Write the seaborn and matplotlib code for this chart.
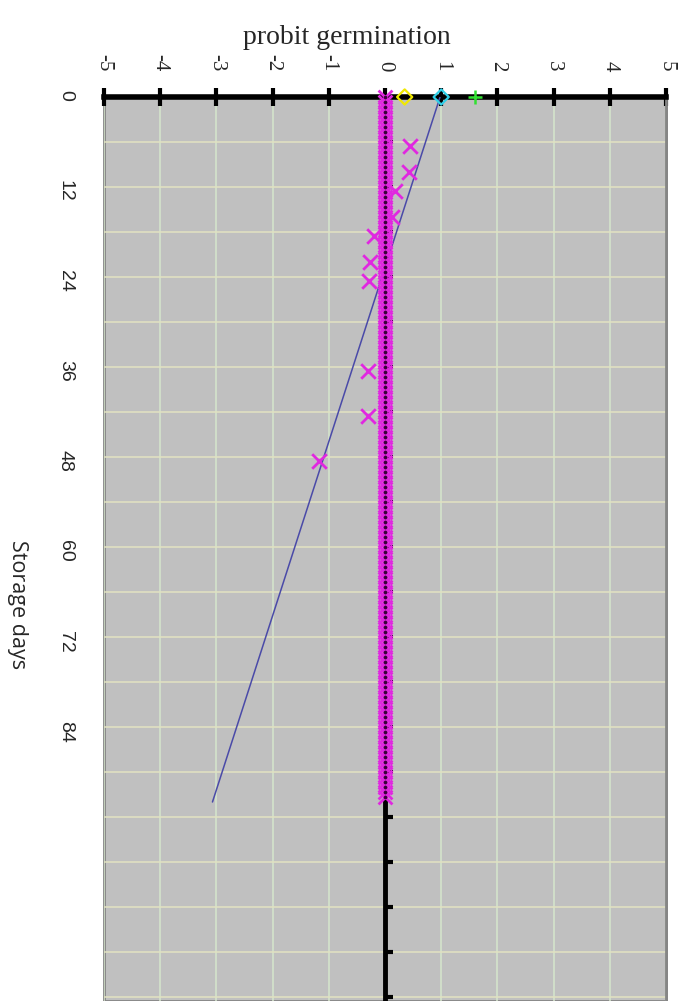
import matplotlib
matplotlib.use("Agg")
import matplotlib.pyplot as plt
import seaborn as sns
import pandas as pd
from matplotlib.ticker import FixedLocator, FuncFormatter

sns.set_style("white")
plt.rcParams['font.family'] = ['Liberation Sans', 'DejaVu Sans']

# ---------------- data ----------------
probit_ticks = [-5, -4, -3, -2, -1, 0, 1, 2, 3, 4, 5]
day_ticks = [0, 6, 12, 18, 24, 30, 36, 42, 48, 54, 60, 66, 72, 78, 84, 90, 96, 102, 108, 114, 120]
day_labels = ['0', '', '12', '', '24', '', '36', '', '48', '', '60', '', '72', '', '84',
              '', '', '', '', '', '']

# dense series lying on probit 0 (read: a marker roughly every 2/3 day up to ~day 93)
zero_days = [i * 2 / 3 for i in range(141)]
zero_probit = [0.0] * len(zero_days)

# scattered observations (pink x)
obs_days = [6.5, 10, 12.5, 16, 18.5, 22, 24.5, 36.5, 42.5, 48.5]
obs_probit = [0.45, 0.42, 0.18, 0.12, -0.2, -0.27, -0.28, -0.3, -0.3, -1.18]

# fitted line
fit_days = [0, 94]
fit_probit = [0.98, -3.07]

# day-0 markers
yellow_probit = [0.35]
cyan_probit = [1.0]
green_probit = [1.6]
day0 = [0]

# ---------------- figure ----------------
W, H = 688, 1001
fig = plt.figure(figsize=(W / 100, H / 100), dpi=100)
ax_left, ax_right, ax_top, ax_bottom = 104, 666, 97, 1001
ax = fig.add_axes([ax_left / W, 1 - ax_bottom / H, (ax_right - ax_left) / W, (ax_bottom - ax_top) / H])
ax.set_facecolor('#c0c0c0')
ax.patch.set_edgecolor('#858585')
ax.patch.set_linewidth(2)

ax.set_xlim(-5, 5)
ax.set_ylim((ax_bottom - ax_top) / 7.5, 0)

# grid
ax.xaxis.set_major_locator(FixedLocator(probit_ticks))
ax.yaxis.set_major_locator(FixedLocator(day_ticks))
ax.grid(True, axis='x', color='#d6e6cc', lw=1.1, zorder=0)
ax.grid(True, axis='y', color='#e2e2c2', lw=1.1, zorder=0)
ax.set_axisbelow(True)

# data
df_zero = pd.DataFrame({'days': zero_days, 'probit': zero_probit})
sns.scatterplot(data=df_zero, x='probit', y='days', marker='x', s=100, color='#e028e0',
                linewidth=2.0, ax=ax, zorder=4, clip_on=False)
sns.scatterplot(data=df_zero, x='probit', y='days', marker='o', s=7, color='#3a003a',
                linewidth=0, ax=ax, zorder=5, clip_on=False)

df_fit = pd.DataFrame({'days': fit_days, 'probit': fit_probit})
sns.lineplot(data=df_fit, x='probit', y='days', orient='y', sort=False, color='#4a4aa8',
             lw=1.1, ax=ax, zorder=3)

df_obs = pd.DataFrame({'days': obs_days, 'probit': obs_probit})
sns.scatterplot(data=df_obs, x='probit', y='days', marker='x', s=110, color='#e028e0',
                linewidth=2.0, ax=ax, zorder=4)

sns.scatterplot(x=yellow_probit, y=day0, marker='D', s=60, facecolor='none', edgecolor='#f0e800',
                linewidth=1.6, ax=ax, zorder=6, clip_on=False)
sns.scatterplot(x=cyan_probit, y=day0, marker='D', s=60, facecolor='none', edgecolor='#30d0e8',
                linewidth=1.6, ax=ax, zorder=6, clip_on=False)
sns.scatterplot(x=green_probit, y=day0, marker='+', s=100, color='#30e030',
                linewidth=1.8, ax=ax, zorder=6, clip_on=False)

# spines
ax.spines['top'].set_visible(True)
ax.spines['top'].set_linewidth(4)
ax.spines['top'].set_color('black')
ax.spines['bottom'].set_visible(False)
ax.spines['right'].set_visible(True)
ax.spines['right'].set_color('#858585')
ax.spines['right'].set_linewidth(2)
ax.spines['left'].set_visible(True)
ax.spines['left'].set_position(('data', 0))
ax.spines['left'].set_linewidth(3.5)
ax.spines['left'].set_color('black')
ax.spines['left'].set_zorder(2.6)

# top (probit) axis
ax.xaxis.tick_top()
ax.xaxis.set_major_formatter(FuncFormatter(lambda v, p: '%d' % v))
ax.tick_params(axis='x', which='major', direction='inout', length=13, width=3, color='black',
               pad=12, labelrotation=-90, labelsize=15, bottom=False, top=True)
for lab in ax.get_xticklabels():
    lab.set_fontfamily('Liberation Serif')

# days axis drawn on the zero line, labels far left
ax.yaxis.set_major_formatter(FuncFormatter(lambda v, p: day_labels[day_ticks.index(int(round(v)))]
                                           if int(round(v)) in day_ticks else ''))
ax.tick_params(axis='y', which='major', direction='in', length=6, width=3, color='black',
               pad=224, labelrotation=-90, labelsize=14, left=True, right=False)

ax.set_xlabel('')
ax.set_ylabel('')

fig.text(347 / W, 1 - 38 / H, 'probit germination', ha='center', va='center', fontsize=20,
         family='Liberation Serif')
fig.text(17 / W, 1 - 605 / H, 'Storage days', ha='center', va='center', fontsize=15.5,
         rotation=-90, family='Open Sans')

fig.savefig('out.png', dpi=100)
